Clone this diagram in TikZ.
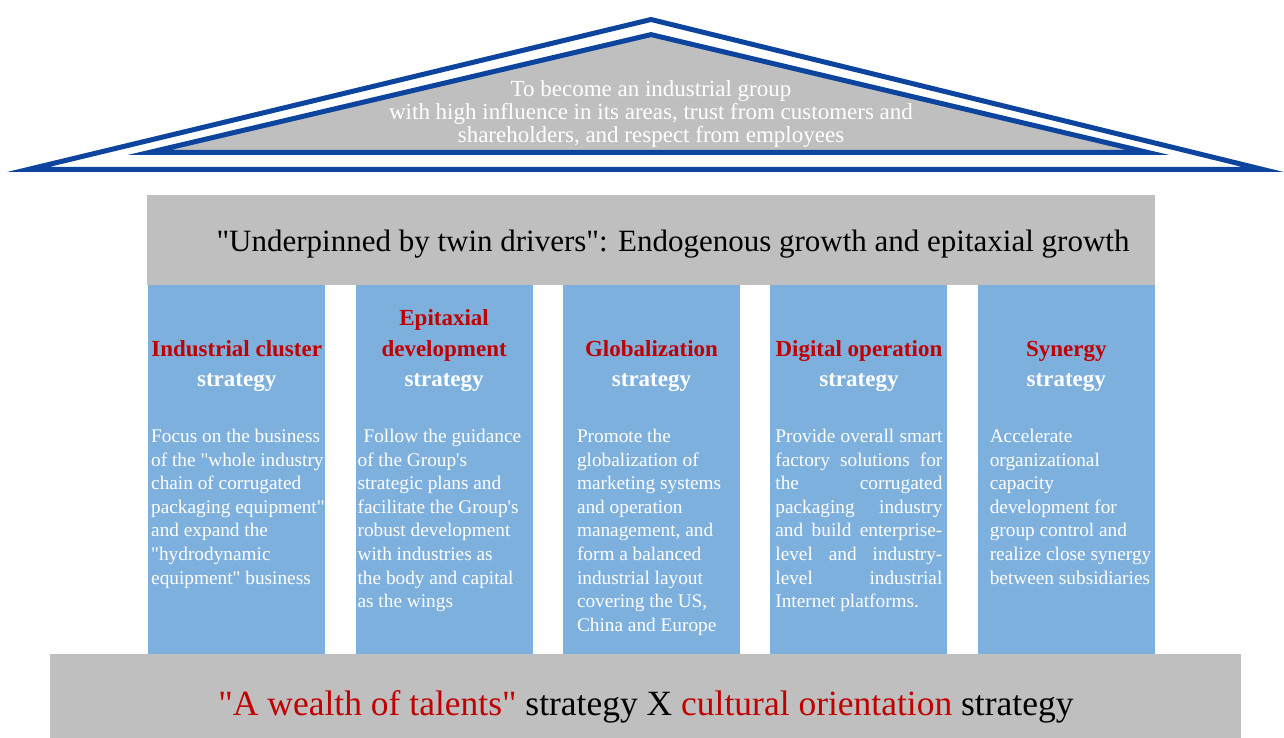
\documentclass[tikz,border=0pt]{standalone}
\usepackage{fontspec}
\setmainfont{Liberation Serif}[Ligatures=TeXOff]
\usetikzlibrary{positioning}
\definecolor{roofblue}{RGB}{13,68,158}
\definecolor{bandgray}{RGB}{191,191,191}
\definecolor{pillarblue}{RGB}{126,176,222}
\definecolor{titlered}{RGB}{192,0,0}
\newcommand\justline[1]{\makebox[167pt][s]{#1}}

\begin{document}
\begin{tikzpicture}[x=1pt,y=-1pt,inner sep=0pt,node distance=30pt,
  pillar/.style={fill=pillarblue,minimum width=177pt,minimum height=370pt,anchor=north west},
  title/.style={anchor=south,align=center,text=white,font=\fontsize{23}{30.5}\selectfont\bfseries},
  body/.style={anchor=north west,align=left,text=white,font=\fontsize{19.3}{23.6}\selectfont},
  band/.style={fill=bandgray}]
\useasboundingbox (0,0) rectangle (1284,738);

% roof
\draw[roofblue,line width=5pt] (28,169.5) -- (651,19.5) -- (1263,169.5) -- cycle;
\draw[roofblue,line width=5pt,fill=bandgray] (149,152.5) -- (651,34.6) -- (1148,152.5) -- cycle;
\node[text=white,align=center,font=\fontsize{23}{23}\selectfont] (vision) at (651,114)
  {To become an industrial group\\with high influence in its areas, trust from customers and\\shareholders, and respect from employees};

\node[band,minimum width=1008pt,minimum height=90pt] (drivers) at (651,240) {};
\node[anchor=base,font=\fontsize{31}{31}\selectfont] (driverstext) at (673,251)
  {"Underpinned by twin drivers": Endogenous growth and epitaxial growth};

% pillars
\node[pillar] (p1) at (148,285) {};
\node[pillar,right=of p1] (p2) {};
\node[pillar,right=of p2] (p3) {};
\node[pillar,right=of p3] (p4) {};
\node[pillar,right=of p4] (p5) {};

\node[title] (t1) at ([yshift=-107pt]p1.north) {\textcolor{titlered}{Industrial cluster}\\strategy};
\node[title] (t2) at ([yshift=-107pt]p2.north) {\textcolor{titlered}{Epitaxial}\\\textcolor{titlered}{development}\\strategy};
\node[title] (t3) at ([yshift=-107pt]p3.north) {\textcolor{titlered}{Globalization}\\strategy};
\node[title] (t4) at ([yshift=-107pt]p4.north) {\textcolor{titlered}{Digital operation}\\strategy};
\node[title] (t5) at ([yshift=-107pt]p5.north) {\textcolor{titlered}{Synergy}\\strategy};

\node[body] (b1) at ([xshift=3pt,yshift=-144pt]p1.north west)
  {Focus on the business\\of the "whole industry\\chain of corrugated\\packaging equipment",\\and expand the\\"hydrodynamic\\equipment" business};
\node[body] (b2) at ([xshift=2pt,yshift=-144pt]p2.north west)
  {\hspace{6pt}Follow the guidance\\of the Group's\\strategic plans and\\facilitate the Group's\\robust development\\with industries as\\the body and capital\\as the wings};
\node[body] (b3) at ([xshift=14pt,yshift=-144pt]p3.north west)
  {Promote the\\globalization of\\marketing systems\\and operation\\management, and\\form a balanced\\industrial layout\\covering the US,\\China and Europe};
\node[body] (b4) at ([xshift=5pt,yshift=-144pt]p4.north west)
  {\justline{Provide overall smart}\\\justline{factory solutions for}\\\justline{the corrugated}\\\justline{packaging industry}\\\justline{and build enterprise-}\\\justline{level and industry-}\\\justline{level industrial}\\Internet platforms.};
\node[body] (b5) at ([xshift=12pt,yshift=-144pt]p5.north west)
  {Accelerate\\organizational\\capacity\\development for\\group control and\\realize close synergy\\between subsidiaries};

% base
\node[band,minimum width=1191pt,minimum height=84pt] (talents) at (645.5,696) {};
\node[anchor=base,font=\fontsize{35.5}{36}\selectfont] (talentstext) at (646,715)
  {\textcolor{titlered}{"A wealth of talents"} strategy X \textcolor{titlered}{cultural orientation} strategy};
\end{tikzpicture}
\end{document}
